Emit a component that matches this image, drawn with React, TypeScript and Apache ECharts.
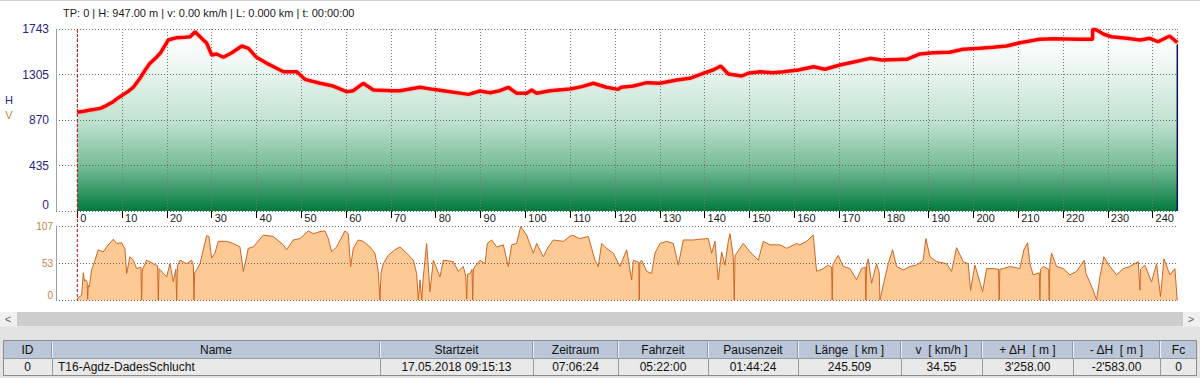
import React, { useEffect, useRef } from "react";
import * as echarts from "echarts";

// ---------- data ----------
const headerInfo = "TP: 0 | H: 947.00 m | v: 0.00 km/h | L: 0.000 km | t: 00:00:00";
const totalKm = 245.509;
const elevTickLabels = ["0", "435", "870", "1305", "1743"];
const speedTickLabels = ["0", "53", "107"];

const elevKm = [
  0, 1.5, 2.8, 4, 5.1, 6.5, 8, 9.2, 10.3, 11.5, 12.5, 14, 15, 16.2, 17.5, 18.5, 19.5, 20.3, 22.2, 24,
  25.2, 26.3, 27.4, 28.9, 30, 31.1, 32.6, 34.5, 36.7, 38.2, 40, 42.3, 44.5, 46, 49, 50.8, 54.2, 57.1,
  60.1, 61.6, 63.8, 66.1, 70.5, 72, 76.5, 79.4, 83.2, 87.3, 89.9, 92.1, 94.3, 96.2, 98.1, 100.3, 101.4,
  102.5, 105.5, 110, 112.6, 115.2, 118.1, 120.7, 121.4, 124.1, 127.1, 130, 133.8, 136.7, 139.7, 141.9,
  143.6, 145.3, 148.3, 149.7, 152.4, 155.3, 157.6, 160.9, 164.3, 166.9, 170.2, 174.3, 176.9, 179.5,
  185.1, 188.1, 191, 194.7, 197.7, 201.4, 204.4, 207.4, 210.4, 214.8, 217.8, 223.8, 226.6, 226.6,
  227.5, 229, 230.8, 234.2, 237.2, 239.4, 241.2, 243.8, 245.509,
];
const elevM = [
  945, 955, 967, 975, 983, 1010, 1047, 1085, 1117, 1150, 1185, 1271, 1340, 1414, 1465, 1510, 1580, 1638, 1660, 1665,
  1669, 1717, 1669, 1606, 1494, 1504, 1472, 1516, 1580, 1558, 1472, 1414, 1367, 1334, 1334, 1261, 1223, 1197,
  1143, 1152, 1223, 1159, 1152, 1152, 1185, 1165, 1143, 1117, 1149, 1133, 1152, 1185, 1127, 1127, 1159,
  1127, 1152, 1168, 1191, 1223, 1185, 1165, 1185, 1197, 1229, 1223, 1255, 1271, 1319, 1350,
  1389, 1312, 1293, 1319, 1334, 1325, 1334, 1350, 1382, 1357, 1398, 1437, 1462, 1446,
  1453, 1504, 1516, 1520, 1549, 1558, 1568, 1580, 1612, 1644, 1650, 1644, 1644, 1740,
  1733, 1695, 1669, 1654, 1637, 1654, 1621, 1676, 1612,
];

const speedKm = [
  0, 0.97, 1.34, 1.6, 1.93, 2.2, 2.31, 2.45, 2.68, 3.2, 3.94, 4.69, 5.8, 6.55, 8.03, 8.78, 9.89, 10.64, 11.01,
  11.75, 12.5, 13.24, 14.2, 14.36, 14.5, 15.47, 16.96, 17.9, 18.08, 18.25, 19.94, 20.68, 21.42, 22.0, 22.17,
  22.35, 22.91, 24.4, 25.52, 25.9, 26.04, 26.2, 26.63, 27.38, 28.12, 28.86, 29.38, 29.98, 30.72, 31.47, 33.33,
  34.81, 36.3, 37.05, 37.79, 38.16, 39.28, 41.51, 43.74, 45.97, 46.72, 48.2, 49.69, 51.55, 52.67, 54.16, 55.27,
  56.02, 56.76, 57.88, 59.74, 60.48, 61.0, 61.6, 62.71, 63.83, 65.32, 66.43, 67.17, 67.55, 67.8, 68.29, 69.41,
  70.9,
  72.02, 73.51, 75.0, 75.74, 76.11, 76.5, 76.86, 77.23, 77.97, 78.72, 79.46, 80.95, 81.69, 83.92, 85.04, 86.15,
  86.7, 86.9, 87.1, 87.64, 88.1, 88.24, 88.4, 88.76, 89.87, 90.99, 91.51, 92.48, 93.59, 95.08, 96.2, 96.94,
  98.06, 98.95, 100.29, 101.78, 102.52, 104.01, 105.12, 106.24, 108.47, 110.33, 112.19, 114.05, 114.79, 115.54,
  116.28, 117.03, 118.14, 119.63, 121.12, 122.61, 123.72, 124.09, 125.3, 125.43, 125.55, 125.95, 127.07, 128.18,
  128.93, 130.04, 131.53, 133.02, 134.14, 135.25, 137.48, 138.97, 140.83, 141.58, 142.32, 143.06, 143.81, 144.55,
  145.29, 145.67, 146.41, 146.63, 146.8, 147.15, 148.64, 150.13, 151.99, 153.11, 154.59, 156.82, 158.31, 160.54,
  161.28, 162.77, 164.26, 165.0, 166.49, 167.6, 168.35, 168.5, 168.62, 168.72, 169.83, 170.95, 172.44, 173.93,
  175.04, 175.85, 176.01, 176.15, 176.53, 177.27, 178.39, 179.0, 179.13, 180.99, 181.96, 182.85, 184.34, 185.83,
  187.32, 188.8, 189.4, 190.29, 191.78, 194.01, 195.13, 196.24, 197.73, 198.85, 199.37, 200.34, 202.05, 202.94,
  204.43, 205.6, 205.77, 205.9, 206.66, 208.15, 210.38, 211.27, 212.09, 212.61, 213.35, 214.7, 214.84, 214.98,
  215.59, 216.8, 216.92, 217.05, 217.45, 218.56, 220.05, 221.54, 223.02, 224.74, 225.11, 226.74, 227.49, 228.23,
  229.12, 230.46, 231.95, 233.44, 234.93, 236.79, 237.16, 237.3, 238.27, 239.76, 240.88, 241.77, 242.52, 243.86,
  244.98, 245.5,
];
const speedV = [
  3, 8, 40, 28, 30, 26, 2, 22, 20, 44, 58, 73, 70, 77, 88, 82, 83, 74, 39,
  63, 58, 46, 48, 1, 44, 58, 53, 50, 1, 46, 34, 53, 27, 45, 1,
  50, 58, 53, 58, 50, 1, 40, 44, 53, 73, 93, 92, 61, 68, 85, 85,
  82, 77, 42, 63, 75, 77, 94, 92, 80, 73, 87, 89, 100, 96, 99, 100,
  89, 70, 77, 100, 96, 49, 75, 87, 85, 77, 68, 42, 1, 40, 53, 65,
  73,
  77, 68, 58, 39, 1, 30, 1, 34, 82, 13, 58, 34, 58, 56, 42, 49,
  35, 2, 38, 39, 45, 1, 45, 49, 58, 53, 82, 87, 77, 80, 49, 80,
  82, 106, 94, 68, 82, 63, 77, 87, 85, 94, 89, 92, 75, 58,
  49, 82, 75, 68, 49, 73, 30, 58, 55, 1, 55, 58, 42, 39,
  68, 82, 85, 82, 51, 87, 87, 88, 89, 68, 85, 30, 70, 51,
  85, 96, 63, 1, 65, 68, 82, 70, 58, 85, 80, 80, 75, 82,
  80, 85, 94, 42, 46, 51, 48, 1, 50, 53, 65, 49, 46, 30,
  46, 48, 1, 50, 60, 25, 53, 40, 1, 53, 73, 49, 44, 49,
  51, 58, 89, 63, 56, 53, 42, 76, 56, 53, 15, 51, 13, 46,
  46, 45, 1, 45, 46, 49, 46, 73, 83, 53, 37, 40, 1, 45,
  49, 45, 1, 50, 68, 49, 46, 37, 42, 58, 39, 15, 1, 34,
  63, 49, 37, 46, 49, 56, 15, 45, 51, 27, 53, 6, 60, 37,
  46, 0,
];

const tableHeaders = ["ID", "Name", "Startzeit", "Zeitraum", "Fahrzeit", "Pausenzeit", "Länge  [ km ]", "v  [ km/h ]", "+ ΔH  [ m ]", "- ΔH  [ m ]", "Fc"];
const tableRow = ["0", "T16-Agdz-DadesSchlucht", "17.05.2018 09:15:13", "07:06:24", "05:22:00", "01:44:24", "245.509", "34.55", "3'258.00", "-2'583.00", "0"];

// ---------- layout ----------
const FONT = '"Liberation Sans Narrow", "Liberation Sans", Arial, sans-serif';
const colEdges = [3, 52, 380, 533, 618, 708, 798, 901, 982, 1073, 1160, 1197];
const TOP = 29, ELEV_H = 182, SP_TOP = 226, SP_H = 74.7;
const FRAME_L = 56, DATA_L = 77.3, RIGHT = 22.7;

function buildStaticGraphics(): any[] {
  const g: any[] = [];
  g.push({ type: "rect", shape: { x: 0, y: 0, width: 1200, height: 1 }, style: { fill: "#cfcfcf" }, silent: true });
  g.push({ type: "text", style: { text: headerInfo, x: 63, y: 13, fill: "#1a1a1a", font: `11px ${FONT}`, align: "left", verticalAlign: "middle" } });
  g.push({ type: "text", style: { text: "H", x: 9, y: 100, fill: "#2a2a80", font: `11px ${FONT}`, align: "center", verticalAlign: "middle" } });
  g.push({ type: "text", style: { text: "V", x: 9, y: 115, fill: "#c8823f", font: `11px ${FONT}`, align: "center", verticalAlign: "middle" } });
  // scrollbar
  g.push({ type: "rect", shape: { x: 0, y: 312, width: 1200, height: 14.5 }, style: { fill: "#cdcdcd" } });
  g.push({ type: "rect", shape: { x: 0, y: 312, width: 17, height: 14.5 }, style: { fill: "#f0f0f0" } });
  g.push({ type: "rect", shape: { x: 1183, y: 312, width: 17, height: 14.5 }, style: { fill: "#f0f0f0" } });
  g.push({ type: "text", style: { text: "<", x: 8, y: 319, fill: "#606060", font: `11px ${FONT}`, align: "center", verticalAlign: "middle" } });
  g.push({ type: "text", style: { text: ">", x: 1191, y: 319, fill: "#606060", font: `11px ${FONT}`, align: "center", verticalAlign: "middle" } });
  // band under scrollbar
  g.push({ type: "rect", shape: { x: 0, y: 327, width: 1200, height: 51 }, style: { fill: "#e3e3e3" } });
  // table
  const x0 = colEdges[0], x1 = colEdges[colEdges.length - 1];
  g.push({ type: "rect", shape: { x: x0, y: 341, width: x1 - x0, height: 17 }, style: { fill: "#bcc6d9" } });
  g.push({ type: "rect", shape: { x: x0, y: 358, width: x1 - x0, height: 17.5 }, style: { fill: "#e9e9e9" } });
  g.push({ type: "rect", shape: { x: x0 + 0.5, y: 340.5, width: x1 - x0 - 1, height: 35 }, style: { fill: "none", stroke: "#8c8c8c", lineWidth: 1 } });
  g.push({ type: "line", shape: { x1: x0, y1: 358.5, x2: x1, y2: 358.5 }, style: { stroke: "#9a9a9a", lineWidth: 1 } });
  for (let i = 1; i < colEdges.length - 1; i++) {
    const x = colEdges[i] + 0.5;
    g.push({ type: "line", shape: { x1: x, y1: 341, x2: x, y2: 358 }, style: { stroke: "#eef0f5", lineWidth: 1 } });
    g.push({ type: "line", shape: { x1: x - 1, y1: 341, x2: x - 1, y2: 358 }, style: { stroke: "#8f97a8", lineWidth: 1 } });
    g.push({ type: "line", shape: { x1: x, y1: 358, x2: x, y2: 375 }, style: { stroke: "#9a9a9a", lineWidth: 1 } });
  }
  for (let i = 0; i < tableHeaders.length; i++) {
    const cx = (colEdges[i] + colEdges[i + 1]) / 2;
    g.push({ type: "text", style: { text: tableHeaders[i], x: cx, y: 350, fill: "#111", font: `12px ${FONT}`, align: "center", verticalAlign: "middle" } });
    const isName = i === 1;
    g.push({
      type: "text",
      style: {
        text: tableRow[i], x: isName ? colEdges[i] + 6 : cx, y: 367, fill: "#111", font: `12px ${FONT}`,
        align: isName ? "left" : "center", verticalAlign: "middle",
      },
    });
  }
  return g;
}

const elevData = elevKm.map((k, i) => [k, elevM[i]]);
const speedData = speedKm.map((k, i) => [k, speedV[i]]);

const dotted = [1, 2];

const option: any = {
  animation: false,
  backgroundColor: "#ffffff",
  grid: [
    { left: FRAME_L, right: RIGHT, top: TOP, height: ELEV_H, outerBoundsMode: "none", containLabel: false },
    { left: DATA_L, right: RIGHT, top: TOP, height: ELEV_H, outerBoundsMode: "none", containLabel: false },
    { left: FRAME_L, right: RIGHT, top: SP_TOP, height: SP_H, outerBoundsMode: "none", containLabel: false },
    { left: DATA_L, right: RIGHT, top: SP_TOP, height: SP_H, outerBoundsMode: "none", containLabel: false },
  ],
  xAxis: [
    { gridIndex: 0, type: "value", min: 0, max: 1, show: false },
    {
      gridIndex: 1, type: "value", min: 0, max: totalKm, interval: 10, z: 4,
      axisLine: { show: false },
      axisTick: { show: true, length: 7, lineStyle: { color: "#000", width: 1 } },
      axisLabel: {
        margin: 1, align: "left", padding: [0, 0, 0, 3], color: "#1a1a1a", fontSize: 11, fontFamily: FONT,
        showMaxLabel: false, showMinLabel: true,
        formatter: (v: number) => (Math.abs(v - Math.round(v / 10) * 10) < 1e-6 ? String(Math.round(v)) : ""),
      },
      splitLine: { show: true, lineStyle: { color: "#777", width: 1, type: dotted } },
    },
    { gridIndex: 2, type: "value", min: 0, max: 1, show: false },
    { gridIndex: 3, type: "value", min: 0, max: totalKm, show: false },
  ],
  yAxis: [
    {
      gridIndex: 0, type: "value", min: 0, max: 1743, interval: 435.75, z: 4,
      axisLine: { show: true, lineStyle: { color: "#a0a0a0", width: 1 } },
      axisTick: { show: false },
      axisLabel: {
        margin: 7, color: "#262680", fontSize: 12, fontFamily: FONT, verticalAlign: "middle", verticalAlignMinLabel: "bottom",
        formatter: (v: number) => elevTickLabels[Math.round(v / 435.75)] ?? "",
      },
      splitLine: { show: true, lineStyle: { color: "#666", width: 1, type: dotted } },
    },
    { gridIndex: 1, type: "value", min: 0, max: 1743, show: false },
    {
      gridIndex: 2, type: "value", min: 0, max: 107, interval: 53.5, z: 4,
      axisLine: { show: true, lineStyle: { color: "#a0a0a0", width: 1 } },
      axisTick: { show: false },
      axisLabel: {
        margin: 3, color: "#c8823f", fontSize: 10, fontFamily: FONT, verticalAlign: "middle", verticalAlignMinLabel: "bottom",
        formatter: (v: number) => speedTickLabels[Math.round(v / 53.5)] ?? "",
      },
      splitLine: { show: true, lineStyle: { color: "#666", width: 1, type: dotted } },
    },
    { gridIndex: 3, type: "value", min: 0, max: 107, show: false },
  ],
  series: [
    {
      type: "line", xAxisIndex: 1, yAxisIndex: 1, data: elevData, showSymbol: false, symbol: "none", silent: true, z: 2,
      lineStyle: { width: 0 },
      areaStyle: {
        opacity: 1,
        color: {
          type: "linear", x: 0, y: TOP, x2: 0, y2: TOP + ELEV_H, global: true,
          colorStops: [
            { offset: 0, color: "#ffffff" },
            { offset: 0.15, color: "#f4faf7" },
            { offset: 0.5, color: "#c2e3d2" },
            { offset: 0.75, color: "#79bd98" },
            { offset: 1, color: "#007a3d" },
          ],
        },
      },
    },
    {
      type: "line", xAxisIndex: 1, yAxisIndex: 1, data: elevData, showSymbol: false, symbol: "none", silent: true, z: 6,
      lineStyle: { color: "#ff0000", width: 3.5, shadowColor: "rgba(255,60,60,0.45)", shadowBlur: 2 },
    },
    {
      type: "line", xAxisIndex: 3, yAxisIndex: 3, data: speedData, showSymbol: false, symbol: "none", silent: true, z: 2,
      lineStyle: { width: 0 },
      areaStyle: { color: "#fdca96", opacity: 1 },
    },
    {
      type: "line", xAxisIndex: 3, yAxisIndex: 3, data: speedData, showSymbol: false, symbol: "none", silent: true, z: 6,
      lineStyle: { color: "#cc6622", width: 1 },
    },
  ],
};

export default function App() {
  const ref = useRef<HTMLDivElement>(null);
  useEffect(() => {
    if (!ref.current) return;
    const chart = echarts.init(ref.current, null, { renderer: "svg" });
    chart.setOption(option);
    const elements = buildStaticGraphics();
    const start = chart.convertToPixel({ gridIndex: 1 }, [0, 0]) as number[];
    const endPt = chart.convertToPixel({ gridIndex: 1 }, [totalKm, elevM[elevM.length - 1]]) as number[];
    const endBase = chart.convertToPixel({ gridIndex: 1 }, [totalKm, 0]) as number[];
    const spBase = chart.convertToPixel({ gridIndex: 3 }, [0, 0]) as number[];
    if (start && endPt && endBase && spBase) {
      elements.push({
        type: "line", z: 20,
        shape: { x1: start[0], y1: TOP, x2: start[0], y2: spBase[1] },
        style: { stroke: "#c00000", lineWidth: 1, lineDash: [3, 2] },
      });
      elements.push({
        type: "line", z: 20,
        shape: { x1: endPt[0], y1: endPt[1] + 2, x2: endBase[0], y2: endBase[1] },
        style: { stroke: "#101060", lineWidth: 1.5 },
      });
    }
    chart.setOption({ graphic: { elements } });
    return () => chart.dispose();
  }, []);
  return (
    <div
      ref={ref}
      style={{ position: "fixed", left: 0, top: 0, width: 1200, height: 378, background: "#fff" }}
    />
  );
}
